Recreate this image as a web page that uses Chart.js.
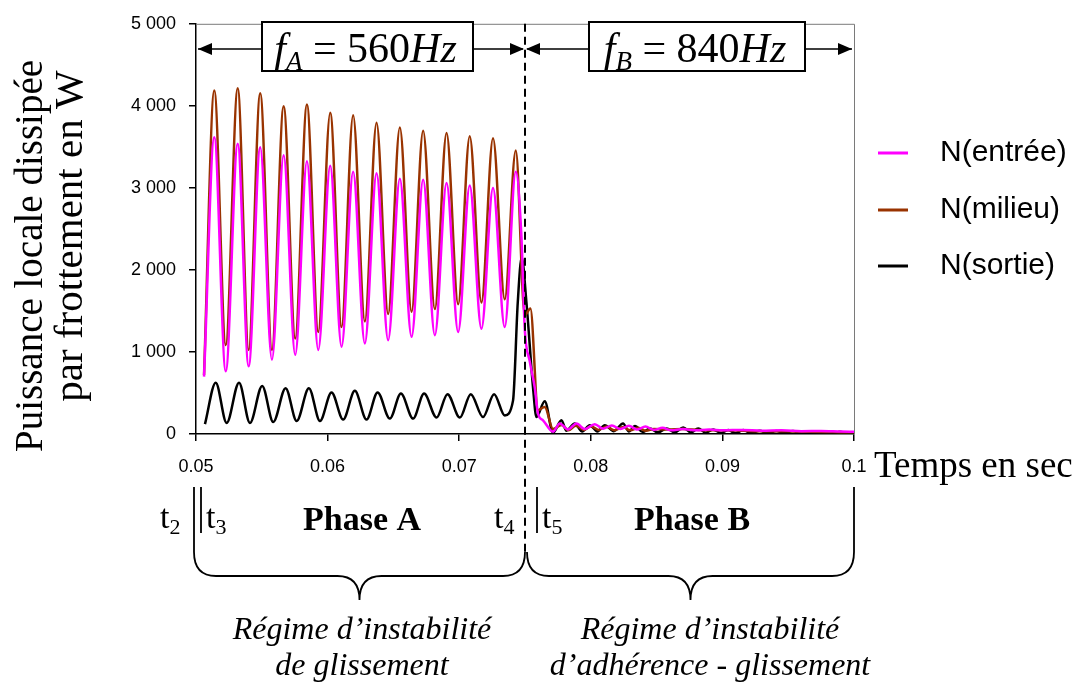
<!DOCTYPE html>
<html><head><meta charset="utf-8">
<script src="https://cdn.jsdelivr.net/npm/chart.js@4/dist/chart.umd.min.js"></script>
<style>html,body{margin:0;padding:0;background:#fff;}#wrap{width:1085px;height:686px;position:relative;}</style>
</head><body><div id="wrap"><canvas id="c" width="1085" height="686"></canvas></div>
<script>
// ---------- data ----------
const seriesNames = ['N(entrée)', 'N(milieu)', 'N(sortie)'];
const seriesColors = ['#FF00FF', '#993300', '#000000'];

const entreeT = [0.05061,0.05139,0.05226,0.05317,0.05400,0.05488,0.05577,0.05666,0.05754,0.05843,0.05929,0.06020,0.06106,0.06194,0.06283,0.06372,0.06460,0.06549,0.06638,0.06726,0.06815,0.06904,0.06992,0.07080,0.07169,0.07257,0.07346,0.07430,
  0.07473,0.07498,0.07536,0.07574,0.07599,0.07637,0.07713,0.07764,0.07827,0.07891,0.07955,0.08030,0.08095,0.08160,0.08225,0.08290,0.08350,0.08415,0.08480,0.08545,0.08610,0.08700,0.08800,0.08900,0.09000,0.09150,0.09300,0.09450,0.09600,0.09750,0.09900,0.10000];
const entreeP = [700,3616,765,3537,825,3496,905,3397,965,3325,1025,3269,1064,3197,1104,3178,1144,3110,1184,3098,1204,3058,1244,3030,1283,2998,1304,3197,
  2400,1283,885,566,247,167,28,128,56,128,60,120,65,105,60,100,55,90,50,75,45,60,45,55,45,50,40,45,35,38,30,28];

const milieuT = [0.05061,0.05139,0.05226,0.05317,0.05400,0.05488,0.05577,0.05666,0.05754,0.05843,0.05929,0.06020,0.06106,0.06194,0.06283,0.06372,0.06460,0.06549,0.06638,0.06726,0.06815,0.06904,0.06992,0.07080,0.07169,0.07257,0.07346,0.07430,
  0.07498,0.07541,0.07599,0.07650,0.07713,0.07777,0.07830,0.07885,0.07950,0.08000,0.08060,0.08120,0.08180,0.08245,0.08300,0.08360,0.08420,0.08480,0.08580,0.08700,0.08820,0.08930,0.09050,0.09160,0.09280,0.09410,0.09540,0.09660,0.09790,0.09900,0.10000];
const milieuP = [720,4186,1085,4213,1025,4154,1025,3995,1164,4015,1244,3915,1304,3884,1372,3795,1463,3735,1491,3696,1523,3668,1582,3628,1603,3604,1642,3457,
  1450,1530,290,330,60,110,45,100,50,95,50,90,45,85,45,75,40,60,55,60,50,45,45,40,35,35,30,28,25,22,20];

const sortieT = [0.05068,0.05150,0.05233,0.05327,0.05410,0.05503,0.05587,0.05681,0.05765,0.05858,0.05942,0.06030,0.06118,0.06207,0.06296,0.06380,0.06473,0.06557,0.06650,0.06733,0.06828,0.06911,0.07005,0.07088,0.07181,0.07265,0.07346,
  0.07409,0.07445,0.07475,0.07511,0.07561,0.07587,0.07650,0.07713,0.07777,0.07815,0.07878,0.07935,0.07992,0.08050,0.08106,0.08175,0.08245,0.08290,0.08335,0.08395,0.08450,0.08510,0.08576,0.08640,0.08702,0.08760,0.08816,0.08875,0.08930,0.08990,0.09044,0.09100,0.09158,0.09220,0.09284,0.09345,0.09410,0.09470,0.09536,0.09600,0.09662,0.09725,0.09789,0.09840,0.09894,0.09950,0.10000];
const sortieP = [120,626,135,626,135,586,147,558,159,558,159,506,176,526,176,506,188,494,188,494,200,486,200,486,207,486,227,
  407,1603,2150,1603,566,207,400,15,167,40,128,30,108,30,108,35,128,30,96,25,68,20,68,20,80,18,68,15,56,12,48,10,48,10,40,8,36,8,36,6,28,6,28,6,28,8,15];

const xTickLabels = ['0.05', '0.06', '0.07', '0.08', '0.09', '0.1'];
const yTickLabels = ['0', '1 000', '2 000', '3 000', '4 000', '5 000'];
const xTitle = 'Temps en sec';
const yTitle = ['Puissance locale dissipée', 'par frottement en W'];
const freqLabels = [['A', '560'], ['B', '840']];
const phaseLabels = ['Phase A', 'Phase B'];
const timeMarks = ['2', '3', '4', '5'];
const regimeLabels = [['Régime d\u2019instabilité', 'de glissement'], ['Régime d\u2019instabilité', 'd\u2019adhérence - glissement']];
const tStart = 0.05, tSplit = 0.075, tEnd = 0.1;

// ---------- chart ----------
const SERIF = '"Liberation Serif", "Times New Roman", serif';
const SANS = '"Liberation Sans", Arial, sans-serif';
const toXY = (t, p) => t.map((v, i) => ({ x: v, y: p[i] }));

function arrowHead(ctx, x, y, dir) {
  ctx.beginPath();
  ctx.moveTo(x, y);
  ctx.lineTo(x - dir * 14, y - 6);
  ctx.lineTo(x - dir * 14, y + 6);
  ctx.closePath();
  ctx.fill();
}
function drawFreqBox(ctx, l, r, top, bottom, sub, val) {
  ctx.lineWidth = 2; ctx.strokeStyle = '#000';
  ctx.fillStyle = '#fff';
  ctx.fillRect(l, top, r - l, bottom - top);
  ctx.strokeRect(l, top, r - l, bottom - top);
  ctx.fillStyle = '#000';
  const fI = 'italic 42px ' + SERIF, fR = '42px ' + SERIF, fS = 'italic 27px ' + SERIF;
  const parts = [['f', fI, 0], [sub, fS, 8], [' = ' + val, fR, 0], ['Hz', fI, 0]];
  let w = 0;
  parts.forEach(p => { ctx.font = p[1]; w += ctx.measureText(p[0]).width; });
  let x = (l + r) / 2 - w / 2 - 2;
  const base = 62;
  ctx.textAlign = 'left'; ctx.textBaseline = 'alphabetic';
  parts.forEach(p => { ctx.font = p[1]; ctx.fillText(p[0], x, base + p[2]); x += ctx.measureText(p[0]).width; });
}
function drawT(ctx, x, y, sub) {
  ctx.textAlign = 'left'; ctx.textBaseline = 'alphabetic';
  ctx.font = '34px ' + SERIF;
  ctx.fillText('t', x, y);
  const w = ctx.measureText('t').width;
  ctx.font = '22px ' + SERIF;
  ctx.fillText(sub, x + w, y + 6);
}
function brace(ctx, x0, x1, yTop, yH, yTip) {
  const xm = (x0 + x1) / 2, r = 22;
  ctx.beginPath();
  ctx.moveTo(x0, yTop);
  ctx.quadraticCurveTo(x0, yH, x0 + r, yH);
  ctx.lineTo(xm - r, yH);
  ctx.quadraticCurveTo(xm, yH, xm, yTip);
  ctx.quadraticCurveTo(xm, yH, xm + r, yH);
  ctx.lineTo(x1 - r, yH);
  ctx.quadraticCurveTo(x1, yH, x1, yTop);
  ctx.stroke();
}

const overlay = {
  id: 'overlay',
  afterDraw(chart) {
    const ctx = chart.ctx, a = chart.chartArea, xs = chart.scales.x;
    const X = v => xs.getPixelForValue(v);
    ctx.save();
    // plot frame (top & right)
    ctx.strokeStyle = '#7a7a7a'; ctx.lineWidth = 1;
    ctx.beginPath(); ctx.moveTo(a.left, a.top + 0.5); ctx.lineTo(a.right + 0.5, a.top + 0.5); ctx.lineTo(a.right + 0.5, a.bottom); ctx.stroke();

    const xS = X(tStart), xM = X(tSplit), xE = X(tEnd);
    // dashed split line
    ctx.strokeStyle = '#000'; ctx.lineWidth = 2; ctx.setLineDash([8, 5]);
    ctx.beginPath(); ctx.moveTo(xM, a.top); ctx.lineTo(xM, 552); ctx.stroke();
    ctx.setLineDash([]);

    // frequency arrows and boxes
    const ay = 49;
    ctx.fillStyle = '#000'; ctx.lineWidth = 1.5;
    const boxA = [262, 473], boxB = [589, 805];
    ctx.beginPath();
    ctx.moveTo(xS + 2, ay); ctx.lineTo(boxA[0], ay);
    ctx.moveTo(boxA[1], ay); ctx.lineTo(xM - 2, ay);
    ctx.moveTo(xM + 2, ay); ctx.lineTo(boxB[0], ay);
    ctx.moveTo(boxB[1], ay); ctx.lineTo(xE - 2, ay);
    ctx.stroke();
    arrowHead(ctx, xS + 2, ay, -1);
    arrowHead(ctx, xM - 1, ay, 1);
    arrowHead(ctx, xM + 1, ay, -1);
    arrowHead(ctx, xE - 2, ay, 1);
    drawFreqBox(ctx, boxA[0], boxA[1], 22, 71, freqLabels[0][0], freqLabels[0][1]);
    drawFreqBox(ctx, boxB[0], boxB[1], 22, 71, freqLabels[1][0], freqLabels[1][1]);

    // legend
    const ly = [153, 210, 266];
    chart.data.datasets.forEach((d, i) => {
      ctx.strokeStyle = d.borderColor; ctx.lineWidth = 3;
      ctx.beginPath(); ctx.moveTo(878, ly[i]); ctx.lineTo(908, ly[i]); ctx.stroke();
      ctx.fillStyle = '#000'; ctx.font = '30px ' + SANS; ctx.textAlign = 'left'; ctx.textBaseline = 'middle';
      ctx.fillText(d.label, 940, ly[i]);
    });

    // axis titles
    ctx.fillStyle = '#000';
    ctx.font = '37px ' + SERIF; ctx.textAlign = 'left'; ctx.textBaseline = 'middle';
    ctx.fillText(xTitle, 874, 467);
    ctx.textAlign = 'center';
    [[32, 256, 39], [71, 236, 41]].forEach((p, i) => {
      ctx.save(); ctx.translate(p[0], p[1]); ctx.rotate(-Math.PI / 2);
      ctx.font = p[2] + 'px ' + SERIF;
      ctx.fillText(yTitle[i], 0, 0); ctx.restore();
    });

    // bottom phase annotations
    ctx.strokeStyle = '#000'; ctx.lineWidth = 1.8;
    ctx.beginPath();
    ctx.moveTo(xS - 2, 487); ctx.lineTo(xS - 2, 552);
    ctx.moveTo(xS + 5, 487); ctx.lineTo(xS + 5, 533);
    ctx.moveTo(xM + 12, 487); ctx.lineTo(xM + 12, 533);
    ctx.moveTo(xE, 487); ctx.lineTo(xE, 552);
    ctx.stroke();
    ctx.fillStyle = '#000';
    drawT(ctx, 160, 528, timeMarks[0]);
    drawT(ctx, 206, 528, timeMarks[1]);
    drawT(ctx, 494, 528, timeMarks[2]);
    drawT(ctx, 542, 528, timeMarks[3]);
    ctx.font = 'bold 34px ' + SERIF; ctx.textAlign = 'center'; ctx.textBaseline = 'alphabetic';
    ctx.fillText(phaseLabels[0], 362, 530);
    ctx.fillText(phaseLabels[1], 692, 530);
    ctx.lineWidth = 1.8;
    brace(ctx, xS - 2, xM, 552, 576, 600);
    brace(ctx, xM + 2, xE, 552, 576, 600);
    ctx.font = 'italic 32px ' + SERIF;
    ctx.fillText(regimeLabels[0][0], 362, 639);
    ctx.fillText(regimeLabels[0][1], 362, 675);
    ctx.fillText(regimeLabels[1][0], 710, 639);
    ctx.fillText(regimeLabels[1][1], 710, 675);
    ctx.restore();
  }
};

new Chart(document.getElementById('c'), {
  type: 'line',
  data: {
    datasets: [
      { label: seriesNames[0], data: toXY(entreeT, entreeP), borderColor: seriesColors[0] },
      { label: seriesNames[1], data: toXY(milieuT, milieuP), borderColor: seriesColors[1] },
      { label: seriesNames[2], data: toXY(sortieT, sortieP), borderColor: seriesColors[2] }
    ]
  },
  options: {
    responsive: false,
    animation: false,
    devicePixelRatio: 1,
    layout: { padding: { left: 0, top: 16, right: 231, bottom: 0 } },
    elements: {
      point: { radius: 0, hoverRadius: 0 },
      line: { borderWidth: 2.5, cubicInterpolationMode: 'monotone', fill: false }
    },
    plugins: { legend: { display: false }, tooltip: { enabled: false } },
    scales: {
      x: {
        type: 'linear', min: tStart, max: tEnd,
        afterFit: s => { s.height = 252; },
        grid: { display: true, drawOnChartArea: false, drawTicks: true, tickLength: 7, color: '#000', lineWidth: 1.5 },
        border: { display: true, color: '#000', width: 1.5 },
        ticks: { stepSize: 0.01, autoSkip: false, maxRotation: 0, padding: 15, color: '#000',
          font: { family: SANS, size: 18 }, callback: (v, i) => xTickLabels[i] }
      },
      y: {
        min: 0, max: 5000,
        afterFit: s => { s.width = 196; },
        grid: { display: true, drawOnChartArea: false, drawTicks: true, tickLength: 7, color: '#000', lineWidth: 1.5 },
        border: { display: true, color: '#000', width: 1.5 },
        ticks: { stepSize: 1000, padding: 13, color: '#000',
          font: { family: SANS, size: 18 }, callback: (v, i) => yTickLabels[i] }
      }
    }
  },
  plugins: [overlay]
});
</script>
</body></html>
